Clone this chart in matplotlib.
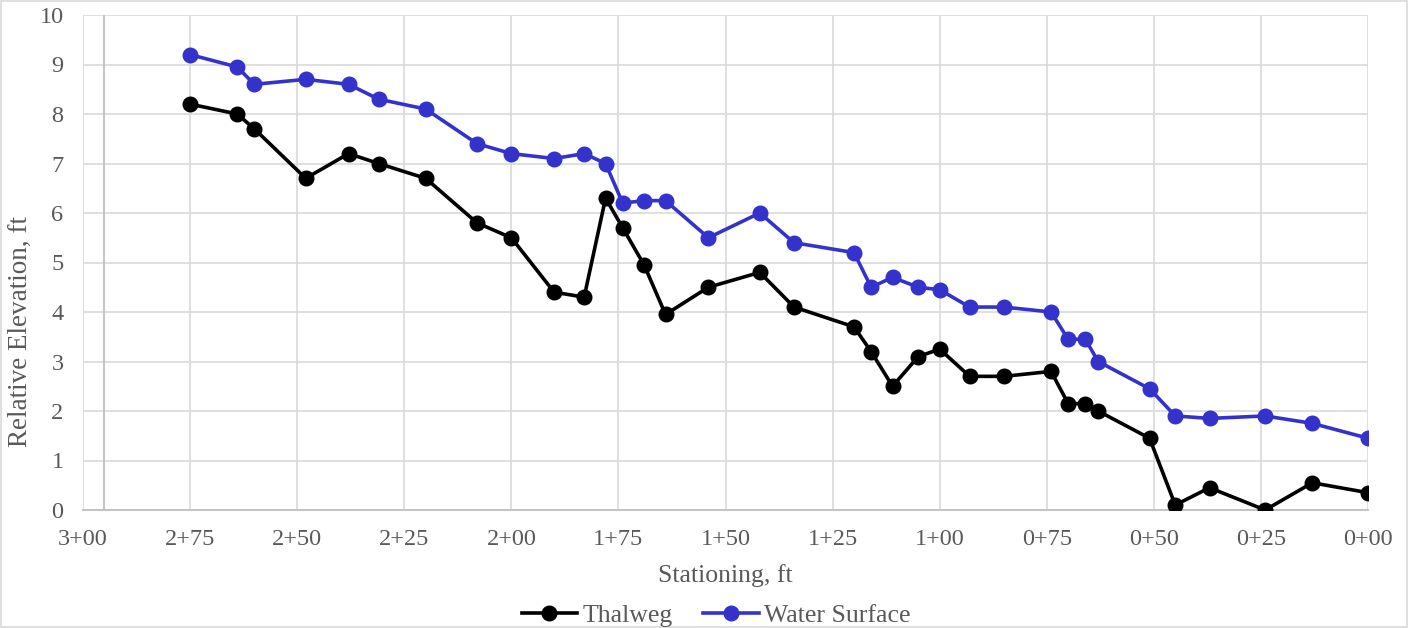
import matplotlib
matplotlib.use("Agg")
import matplotlib.pyplot as plt
from matplotlib.patches import Rectangle

# stationing in ft (shared by both series)
stations = [275, 264, 260, 248, 238, 231, 220, 208, 200, 190, 183, 178, 174, 169, 164,
            154, 142, 134, 120, 116, 111, 105, 100, 93, 85, 74, 70, 66, 63, 51, 45, 37,
            24, 13, 0]
thalweg = [8.2, 8.0, 7.7, 6.7, 7.2, 7.0, 6.7, 5.8, 5.5, 4.4, 4.3, 6.3, 5.7, 4.95, 3.95,
           4.5, 4.8, 4.1, 3.7, 3.2, 2.5, 3.1, 3.25, 2.7, 2.7, 2.8, 2.15, 2.15, 2.0, 1.45,
           0.1, 0.45, 0.0, 0.55, 0.35]
water_surface = [9.2, 8.95, 8.6, 8.7, 8.6, 8.3, 8.1, 7.4, 7.2, 7.1, 7.2, 7.0, 6.2, 6.25,
                 6.25, 5.5, 6.0, 5.4, 5.2, 4.5, 4.7, 4.5, 4.45, 4.1, 4.1, 4.0, 3.45, 3.45,
                 3.0, 2.45, 1.9, 1.85, 1.9, 1.75, 1.45]

x_ticks = list(range(0, 301, 25))
y_ticks = list(range(0, 11))
axis_cross = 295

plt.rcParams['font.family'] = ['Liberation Serif', 'DejaVu Serif']
text_color = '#595959'
grid_color = '#D9D9D9'

fig = plt.figure(figsize=(14.08, 6.28), dpi=100)
ax = fig.add_axes([83 / 1408, 1 - 510 / 628, (1368 - 83) / 1408, (510 - 15) / 628])

ax.plot(stations, thalweg, color='black', lw=2.6, marker='o', ms=10.5, label='Thalweg', zorder=3)
ax.plot(stations, water_surface, color='#3333CC', lw=2.6, marker='o', ms=10.5,
        label='Water Surface', zorder=3)

ax.set_xlim(300, 0)
ax.set_ylim(0, 10)
ax.set_xticks(x_ticks)
ax.set_xticklabels([f"{t // 100}+{t % 100:02d}" for t in x_ticks])
ax.set_yticks(y_ticks)
ax.grid(True, color=grid_color, lw=1.2, zorder=0)
ax.axvline(axis_cross, color='#BFBFBF', lw=1.3, zorder=1)
ax.set_axisbelow(True)

for side in ['left', 'right', 'top']:
    ax.spines[side].set_visible(False)
ax.spines['bottom'].set_color('#BFBFBF')
ax.spines['bottom'].set_linewidth(1.3)
ax.tick_params(length=0, labelsize=17.5, colors=text_color, pad=14)
ax.tick_params(axis='x', pad=14)

ax.set_xlabel('Stationing, ft', fontsize=18.5, color=text_color, labelpad=10)
ax.set_ylabel('Relative Elevation, ft', fontsize=19.5, color=text_color, va='center')
ax.yaxis.set_label_coords(-0.049, 0.36)

fig.legend(loc='lower center', bbox_to_anchor=(0.5085, -0.036), ncol=2, frameon=False,
           fontsize=18.5, labelcolor=text_color, handlelength=2.15, handletextpad=0.2,
           columnspacing=1.2)

fig.patches.append(Rectangle((0.001, 0.001), 0.998, 0.998, transform=fig.transFigure,
                             fill=False, edgecolor='#D9D9D9', lw=1.2))

fig.savefig('out.png', dpi=100)
